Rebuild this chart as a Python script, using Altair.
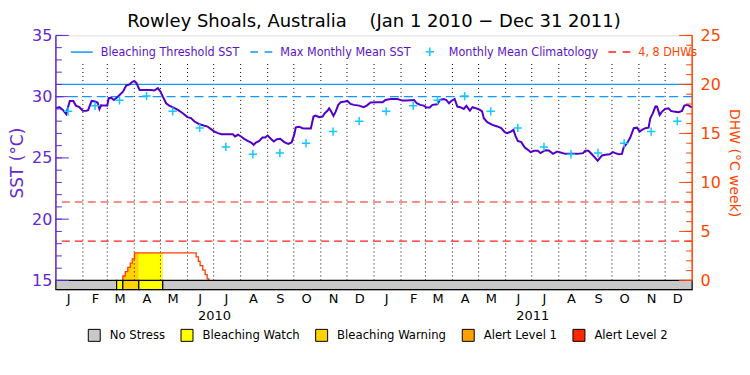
import altair as alt
import pandas as pd

# ---------------- data ----------------
TITLE = "Rowley Shoals, Australia" + "\u00a0" * 4 + "(Jan 1 2010 \u2212 Dec 31 2011)"

# daily SST, x = days since 2010-01-01
sst_day = (
    [0, 4, 8, 12, 13, 16, 20, 23, 27, 31, 35, 37, 41, 45, 48, 50, 52, 54, 59, 60.5,
     63.5, 66.6, 71, 77, 80.7, 84.5, 87, 90, 92.5, 96, 102, 109, 113, 117, 120,
     122.7, 126.5, 130, 135, 140, 145.6, 151, 155, 159, 164.7, 169.6, 174, 178, 182, 186]
    + [190, 197, 203, 205.5, 209, 212.4, 216, 220, 224, 227, 229.5, 233.4, 237, 240, 243,
       246, 250, 253.6, 257.4, 262, 266.6, 270.4, 273.4, 275.3, 279, 283, 288, 292.5,
       295.6, 298, 302, 306, 308.5, 311.6, 313.5, 315.4, 318.5, 321, 324, 327, 331.5,
       334.5, 338, 342, 348, 353, 356.7, 361, 369]
    + [375, 378, 384, 392, 397.5, 403, 411, 414, 418, 422, 425.4, 429, 432, 437.6, 440.7,
       445, 448, 451, 453.7, 457.5, 460.6, 464, 468, 471, 475, 478, 481.6, 486.6, 489,
       491, 495, 500.7, 506.5, 511, 515, 518, 522, 525, 527.5, 530, 534, 538, 541.7,
       544.7, 548.6]
    + [552.8, 556, 561.6, 565.5, 570.4, 575, 579, 584.6, 590, 598, 604.8, 607.4, 611, 615,
       619, 621.6, 624, 626.6, 630.4, 635.4, 639, 642, 645.7, 649.5, 651.4, 655.3, 659,
       663, 666.7, 669.8, 672.4, 676.3, 680, 682, 685, 687.8, 689.7, 692.7, 695.4, 699,
       703, 705.7, 708.8, 714.5, 718.3, 721, 724.8, 728, 730]
)
sst_val = (
    [29.06, 29.14, 28.92, 28.57, 28.9, 29.65, 29.65, 29.27, 29.14, 28.84, 28.84, 28.9,
     29.65, 29.6, 29.5, 28.98, 29.3, 29.27, 29.27, 29.87, 29.9, 29.73, 30.0, 30.41, 30.9,
     31.0, 31.18, 31.28, 31.1, 30.55, 30.55, 30.55, 30.5, 30.69, 30.41, 30.0, 29.46,
     29.27, 29.11, 28.92, 28.65, 28.33, 28.25, 27.97, 27.75, 27.64, 27.56, 27.35, 27.15, 27.02]
    + [26.94, 26.94, 26.94, 26.75, 26.89, 26.75, 26.56, 26.39, 26.26, 26.07, 26.26, 26.39,
       26.66, 26.66, 26.83, 26.61, 26.34, 26.52, 26.56, 26.29, 26.15, 26.26, 26.88, 27.5,
       27.55, 27.43, 27.4, 27.4, 28.38, 28.46, 28.32, 28.38, 28.65, 28.84, 29.05, 28.84,
       28.43, 28.78, 29.33, 29.55, 29.6, 29.65, 29.41, 29.33, 29.27, 29.14, 29.27, 29.52, 29.55]
    + [29.55, 29.73, 29.81, 29.81, 29.68, 29.68, 29.73, 29.46, 29.33, 29.27, 29.11, 29.11,
       29.33, 29.38, 29.73, 29.81, 29.73, 29.46, 29.65, 29.81, 29.19, 29.14, 29.0, 29.25,
       28.87, 29.14, 29.06, 28.92, 28.8, 28.24, 27.92, 27.7, 27.57, 27.43, 27.1, 27.02,
       27.15, 27.29, 26.75, 26.39, 26.29, 25.85, 25.66, 25.47, 25.58]
    + [25.58, 25.39, 25.63, 25.6, 25.33, 25.52, 25.44, 25.33, 25.33, 25.33, 25.39, 25.58,
       25.58, 25.3, 24.98, 24.77, 24.98, 25.2, 25.25, 25.3, 25.47, 25.39, 25.3, 25.33,
       25.85, 26.2, 26.66, 27.43, 27.47, 27.15, 27.29, 27.43, 27.47, 28.24, 28.65, 29.19,
       29.19, 28.51, 28.78, 29.0, 29.05, 28.84, 28.78, 28.73, 28.84, 29.27, 29.33, 29.19, 29.14]
)

# monthly mean climatology (Jan..Dec), plotted mid-month in both years
clim_val = [28.8, 29.25, 29.7, 30.05, 28.8, 27.45, 25.9, 25.3, 25.4, 26.2, 27.15, 28.0]
threshold_sst = [31.0]
mmm_sst = [30.0]
dhw_lines = [4, 8]

# degree heating weeks (step series)
dhw_day = [76.8, 76.8, 79.6, 82.5, 85.3, 87.6, 90.2, 160.9, 163.5, 165.5, 168.5, 171.3, 173.6, 175.4]
dhw_val = [0, 0.45, 0.9, 1.33, 1.77, 2.2, 2.8, 2.4, 1.95, 1.5, 1.05, 0.6, 0.15, 0]

# stress level bar
stress_start = [0, 69.7, 76.8, 95.1, 122.6]
stress_end = [69.7, 76.8, 95.1, 122.6, 730]
stress_level = ["No Stress", "Bleaching Watch", "Bleaching Warning", "Bleaching Watch", "No Stress"]
stress_names = ["No Stress", "Bleaching Watch", "Bleaching Warning", "Alert Level 1", "Alert Level 2"]
stress_colors = ["#c8c8c8", "#ffff00", "#ffd200", "#ffa000", "#ff2800"]

top_names = ["Bleaching Threshold SST", "Max Monthly Mean SST", "Monthly Mean Climatology", "4, 8 DHWs"]
top_colors = ["#1496ff", "#1496ff", "#14c8ff", "#ff2020"]
CROSS = "M-0.38,0L0.38,0M0,-0.38L0,0.38"
SOLID = "M-1,0L1,0"
DASHED = "M-1,0L-0.3,0M0.3,0L1,0"

month_len = [31, 28, 31, 30, 31, 30, 31, 31, 30, 31, 30, 31] * 2
year_label_day = [181.5, 546.5]
sst_ticks = list(range(15, 36))
sst_major = [15, 20, 25, 30, 35]
dhw_ticks = list(range(0, 26))
dhw_major = [0, 5, 10, 15, 20, 25]

# ---------------- helpers ----------------
BASE_MS = 1262304000000  # 2010-01-01 UTC
DAY_MS = 86400000


def ms(d):
    return BASE_MS + d * DAY_MS


month_start = []
acc = 0
for m in month_len:
    month_start.append(acc)
    acc += m
month_mid = [s + 14 for s in month_start]

PURPLE = "#5a14c8"
AXPURPLE = "#6428d2"
ORANGE = "#ff4600"
FONT = "DejaVu Sans"
LFONT = "Liberation Sans Narrow, DejaVu Sans Condensed, Roboto, sans-serif"

W, H = 638, 255
sst_scale = alt.Scale(domain=[14.24, 35], nice=False, zero=False)
dhw_scale = alt.Scale(domain=[-0.95, 25], nice=False, zero=False)
x_scale = alt.Scale(type="utc", domain=[ms(0), ms(730)], nice=False)
stress_scale = alt.Scale(domain=stress_names, range=stress_colors)

sst_df = pd.DataFrame({"t": [ms(d) for d in sst_day], "sst": sst_val})
clim_df = pd.DataFrame({
    "t": [ms(d) for d in month_mid],
    "sst": clim_val * 2,
    "series": "Monthly Mean Climatology",
})
dhw_df = pd.DataFrame({"t": [ms(d) for d in dhw_day], "dhw": dhw_val, "i": range(len(dhw_day))})
bar_df = pd.DataFrame({
    "t": [ms(d) for d in stress_start],
    "t2": [ms(d) for d in stress_end],
    "lo": 14.24, "hi": 15.0, "level": stress_level,
})


def step_value(d):
    v = 0.0
    for dd, vv in zip(dhw_day, dhw_val):
        if dd <= d:
            v = vv
    return v


area_rows = []
for k, (s, e, lev) in enumerate(zip(stress_start, stress_end, stress_level)):
    if lev == "No Stress":
        continue
    pts = [s] + [d for d in dhw_day if s < d < e] + [e]
    for d in pts:
        area_rows.append({"t": ms(d), "dhw": step_value(d) if d < e else step_value(e - 1e-6),
                          "base": 0.0, "level": lev, "seg": k})
area_df = pd.DataFrame(area_rows)

grid_df = pd.DataFrame({"t": [ms(d) for d in month_start[1:]], "lo": 15.0, "hi": 32.8})

X_NONE = alt.X("t:T", scale=x_scale, axis=None)

# ---------------- layers ----------------
area = alt.Chart(area_df).mark_area(interpolate="step-after").encode(
    x=X_NONE,
    y=alt.Y("dhw:Q", scale=dhw_scale, axis=None, stack=None),
    y2="base:Q",
    color=alt.Color("level:N", scale=stress_scale, legend=None),
    detail="seg:N",
)

grid = alt.Chart(grid_df).mark_rule(color="black", strokeWidth=1, strokeDash=[1, 3]).encode(
    x=X_NONE, y=alt.Y("lo:Q", scale=sst_scale, axis=None), y2="hi:Q"
)

dhw_ref = alt.Chart(pd.DataFrame({"v": dhw_lines})).mark_rule(
    color="#ff1e1e", strokeWidth=1.2, strokeDash=[8, 5]
).encode(y=alt.Y("v:Q", scale=dhw_scale, axis=None))

thr = alt.Chart(pd.DataFrame({"v": threshold_sst})).mark_rule(
    color=top_colors[0], strokeWidth=1.4
).encode(y=alt.Y("v:Q", scale=sst_scale, axis=None))

mmm = alt.Chart(pd.DataFrame({"v": mmm_sst})).mark_rule(
    color=top_colors[1], strokeWidth=1.4, strokeDash=[9, 5]
).encode(y=alt.Y("v:Q", scale=sst_scale, axis=None))

dhw_line = alt.Chart(dhw_df).mark_line(
    interpolate="step-after", color="#ff3c00", strokeWidth=1.3
).encode(
    x=X_NONE,
    y=alt.Y("dhw:Q", scale=dhw_scale, axis=alt.Axis(
        orient="right", values=dhw_major, ticks=False, domain=False, grid=False,
        labelColor=ORANGE, labelFontSize=16, labelPadding=8, labelFont=FONT,
        title="DHW (\u00b0C week)", titleColor=ORANGE, titleFontSize=14,
        titleFontWeight="normal", titlePadding=6, titleFont=FONT)),
    order="i:Q",
)

sst_line = alt.Chart(sst_df).mark_line(color="#5000c8", strokeWidth=2).encode(
    x=alt.X("t:T", scale=x_scale, axis=alt.Axis(
        orient="bottom", values=[ms(d) for d in month_mid],
        labelExpr="substring(utcFormat(datum.value, '%b'), 0, 1)",
        ticks=False, domain=False, grid=False, labelFontSize=13, labelPadding=3,
        labelColor="black", labelFlush=False, labelOverlap=False, title=None, labelFont=FONT)),
    y=alt.Y("sst:Q", scale=sst_scale, axis=alt.Axis(
        orient="left", values=sst_major, ticks=False, domain=False, grid=False,
        labelColor=AXPURPLE, labelFontSize=16, labelPadding=4, labelFont=FONT,
        title="SST (\u00b0C)", titleColor=AXPURPLE, titleFontSize=17,
        titleFontWeight="normal", titlePadding=5, titleFont=FONT)),
)

sym_expr = ("datum.value == '%s' ? '%s' : (datum.value == '%s' ? '%s' : '%s')"
            % (top_names[2], CROSS, top_names[0], SOLID, DASHED))
lab_expr = "datum.value == '%s' ? '%s' : '%s'" % (top_names[3], ORANGE, PURPLE)

top_legend = alt.Legend(
    title=None, orient="none", legendX=14, legendY=4, direction="horizontal",
    symbolSize=484, symbolStrokeWidth=1.5, symbolType={"expr": sym_expr},
    labelFont=LFONT, labelFontSize=12.5,
    labelOffset=7, columnPadding=7, padding=0,
    labelColor={"expr": lab_expr},
)
clim = alt.Chart(clim_df).mark_point(
    filled=False, size=484, strokeWidth=1.5, opacity=1, shape=CROSS
).encode(
    x=X_NONE,
    y=alt.Y("sst:Q", scale=sst_scale, axis=None),
    color=alt.Color("series:N", scale=alt.Scale(domain=top_names, range=top_colors), legend=top_legend),
)

bar = alt.Chart(bar_df).mark_rect(stroke="black", strokeWidth=1.2).encode(
    x=alt.X("t:T", scale=x_scale, axis=alt.Axis(
        orient="bottom", values=[ms(d) for d in year_label_day],
        labelExpr="utcFormat(datum.value, '%Y')", ticks=False, domain=False, grid=False,
        labelFontSize=13, labelPadding=20, labelColor="black", labelFlush=False,
        title=None, labelFont=FONT)),
    x2="t2:T",
    y=alt.Y("lo:Q", scale=sst_scale, axis=None),
    y2="hi:Q",
    color=alt.Color("level:N", scale=stress_scale, legend=alt.Legend(
        title=None, orient="none", legendX=32, legendY=294, direction="horizontal",
        symbolType="square", symbolSize=144, symbolStrokeColor="black", symbolStrokeWidth=1,
        symbolOpacity=1, labelFont=LFONT, labelFontSize=13, labelOffset=9,
        columnPadding=13, padding=0, labelColor="black")),
)

lmin = alt.Chart(pd.DataFrame({"v": sst_ticks})).mark_rule(color=AXPURPLE, strokeWidth=1).encode(
    y=alt.Y("v:Q", scale=sst_scale, axis=None), x=alt.value(0), x2=alt.value(6))
lmaj = alt.Chart(pd.DataFrame({"v": sst_major})).mark_rule(color=AXPURPLE, strokeWidth=1).encode(
    y=alt.Y("v:Q", scale=sst_scale, axis=None), x=alt.value(0), x2=alt.value(13))
rmin = alt.Chart(pd.DataFrame({"v": dhw_ticks})).mark_rule(color=ORANGE, strokeWidth=1).encode(
    y=alt.Y("v:Q", scale=dhw_scale, axis=None), x=alt.value(W), x2=alt.value(W - 6))
rmaj = alt.Chart(pd.DataFrame({"v": dhw_major})).mark_rule(color=ORANGE, strokeWidth=1).encode(
    y=alt.Y("v:Q", scale=dhw_scale, axis=None), x=alt.value(W), x2=alt.value(W - 13))
laxis = alt.Chart(pd.DataFrame({"lo": [15], "hi": [35]})).mark_rule(color=AXPURPLE, strokeWidth=1.5).encode(
    y=alt.Y("lo:Q", scale=sst_scale, axis=None), y2="hi:Q", x=alt.value(0))
raxis = alt.Chart(pd.DataFrame({"lo": [0], "hi": [25]})).mark_rule(color=ORANGE, strokeWidth=1.5).encode(
    y=alt.Y("lo:Q", scale=dhw_scale, axis=None), y2="hi:Q", x=alt.value(W))

chart = alt.layer(
    area, grid, dhw_ref, thr, mmm, dhw_line, sst_line, clim, bar,
    lmin, lmaj, rmin, rmaj, laxis, raxis,
).resolve_scale(
    y="independent", color="independent"
).resolve_axis(
    x="independent", y="independent"
).properties(
    width=W, height=H,
    autosize=alt.AutoSizeParams(type="none"),
    padding={"left": 48, "top": 27, "right": 50, "bottom": 77},
    title=alt.TitleParams(TITLE, fontSize=18, font=FONT, fontWeight="normal",
                          color="black", offset=6, dy=10, anchor="middle"),
).configure_view(
    stroke="black", strokeWidth=1
).configure(
    background="white", font=FONT
)

chart.save("out.html", embed_options={"renderer": "svg", "actions": False})
